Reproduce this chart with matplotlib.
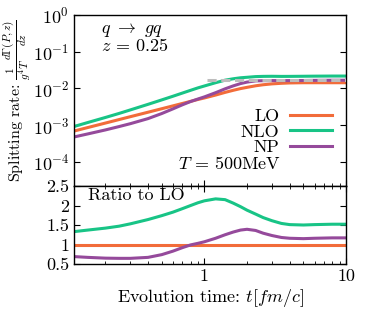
import numpy as np
import matplotlib
matplotlib.use("Agg")
import matplotlib.pyplot as plt

plt.rcParams['font.family'] = ['cmr10', 'DejaVu Serif']
plt.rcParams['mathtext.fontset'] = 'cm'
plt.rcParams['axes.unicode_minus'] = False
plt.rcParams['axes.formatter.use_mathtext'] = True
plt.rcParams['font.size'] = 13

# ---- data ----
t = [0.12, 0.15, 0.2, 0.25, 0.3, 0.4, 0.5, 0.6, 0.7, 0.8, 0.9, 1.0, 1.2, 1.4,
     1.6, 1.8, 2.0, 2.3, 2.6, 3.0, 3.5, 4.0, 5.0, 6.0, 8.0, 10.0]
rate_LO = [6.9e-4, 8.6e-4, 1.14e-3, 1.42e-3, 1.70e-3, 2.25e-3, 2.8e-3, 3.35e-3,
           3.9e-3, 4.45e-3, 5.0e-3, 5.5e-3, 6.6e-3, 7.8e-3, 8.9e-3, 9.9e-3,
           1.07e-2, 1.18e-2, 1.26e-2, 1.33e-2, 1.38e-2, 1.41e-2, 1.43e-2,
           1.43e-2, 1.43e-2, 1.43e-2]
ratio_NLO = [1.33, 1.37, 1.42, 1.47, 1.53, 1.64, 1.74, 1.83, 1.92, 2.00, 2.07,
             2.12, 2.17, 2.15, 2.06, 1.97, 1.88, 1.78, 1.69, 1.61, 1.54, 1.51,
             1.50, 1.51, 1.52, 1.52]
ratio_NP = [0.69, 0.67, 0.65, 0.645, 0.645, 0.67, 0.74, 0.83, 0.92, 0.99, 1.03,
            1.07, 1.16, 1.25, 1.32, 1.37, 1.39, 1.36, 1.29, 1.23, 1.18, 1.16,
            1.15, 1.16, 1.17, 1.17]
asym_t = [1.05, 10.0]
asym_rate = [0.0168, 0.0168]

labels = ["LO", "NLO", "NP"]
colors = ["#f26c3a", "#18c486", "#954a9b"]

t_arr = np.array(t)
lo = np.array(rate_LO)
rates = [lo, lo * np.array(ratio_NLO), lo * np.array(ratio_NP)]
ratios = [np.ones_like(lo), np.array(ratio_NLO), np.array(ratio_NP)]

W, H = 373, 311
fig = plt.figure(figsize=(W / 100, H / 100), dpi=100)
L, R = 74 / W, 346 / W
ax1 = fig.add_axes([L, (H - 186) / H, R - L, 171 / H])
ax2 = fig.add_axes([L, (H - 264) / H, R - L, 78 / H])

lw = 2.2
for y, c, lab in zip(rates, colors, labels):
    ax1.plot(t_arr, y, color=c, lw=lw, label=lab)
ax1.plot(asym_t, asym_rate, color="#bdbdbd", lw=lw, ls=(0, (3, 1.5)), zorder=5)

for y, c in zip(ratios, colors):
    ax2.plot(t_arr, y, color=c, lw=lw)

for ax in (ax1, ax2):
    ax.set_xscale('log')
    ax.set_xlim(0.12, 10)
    ax.tick_params(which='both', direction='in', top=False, right=True)
    ax.tick_params(which='major', length=4, width=0.8)
    ax.tick_params(which='minor', length=2, width=0.6)
    for s in ax.spines.values():
        s.set_linewidth(1.0)

ax2.tick_params(which='both', top=True)
ax1.set_yscale('log')
ax1.set_ylim(2.2e-5, 1)
ax1.set_yticks([1e-4, 1e-3, 1e-2, 1e-1, 1])
ax1.tick_params(axis='x', labelbottom=False)

ax2.set_ylim(0.5, 2.5)
ax2.set_yticks([0.5, 1, 1.5, 2, 2.5])
ax2.set_yticklabels(["0.5", "1", "1.5", "2", "2.5"])
ax2.set_xticks([1, 10])
ax2.set_xticklabels(["1", "10"])

ax1.set_ylabel(r"Splitting rate: $\frac{1}{g^4T}\frac{d\Gamma(P,z)}{dz}$", va='center',
               fontsize=11.5)
ax1.yaxis.set_label_coords(-56.5 / 272, 0.5)
ax2.set_xlabel(r"Evolution time: $t[fm/c]$", labelpad=2)

ax1.text(0.10, 0.915, r"$q\ \rightarrow\ gq$", transform=ax1.transAxes, va='center')
ax1.text(0.10, 0.82, r"$z\,=\,0.25$", transform=ax1.transAxes, va='center')
ax1.text(207 / 272, 0.13, r"$T\,=\,500$MeV", transform=ax1.transAxes, ha='right', va='center')

leg = ax1.legend(loc='upper right', bbox_to_anchor=(0.96, 0.475), frameon=False,
                 markerfirst=False, handlelength=2.3, handletextpad=0.6,
                 labelspacing=0.0, borderpad=0.2, borderaxespad=0)

ax2.text(0.05, 0.88, "Ratio to LO", transform=ax2.transAxes, va='center')

fig.savefig("out.png", dpi=100)
